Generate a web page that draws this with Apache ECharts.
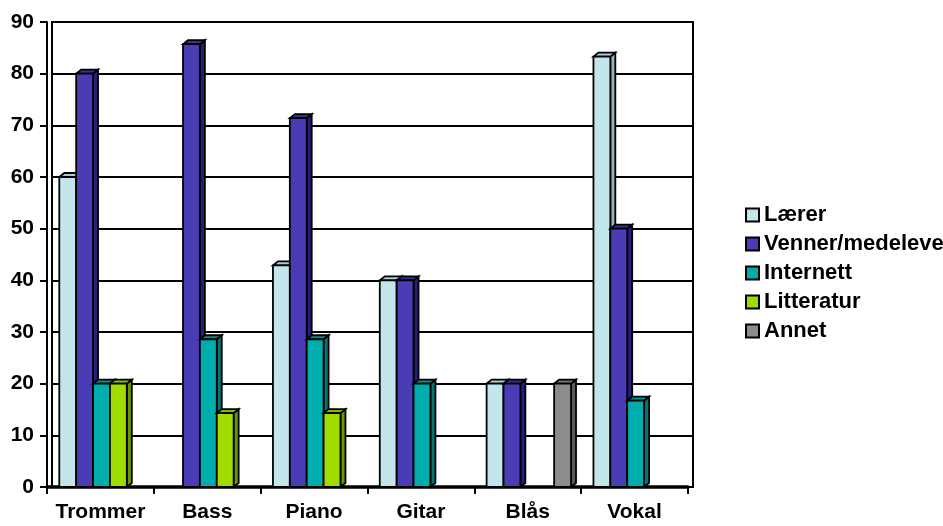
<!DOCTYPE html>
<html>
<head>
<meta charset="utf-8">
<script src="https://cdn.jsdelivr.net/npm/echarts@6/dist/echarts.min.js"></script>
<style>
  html, body { margin: 0; padding: 0; background: #fff; }
  #chart { width: 943px; height: 526px; }
</style>
</head>
<body>
<div id="chart"></div>
<script>
// Instrument categories and sources of learning (percent)
const categories = ['Trommer', 'Bass', 'Piano', 'Gitar', 'Blås', 'Vokal'];
const seriesNames = ['Lærer', 'Venner/medelever', 'Internett', 'Litteratur', 'Annet'];
const laerer     = [60,   0,    42.9, 40, 20, 83.3];
const venner     = [80,   85.7, 71.4, 40, 20, 50];
const internett  = [20,   28.6, 28.6, 20, 0,  16.7];
const litteratur = [20,   14.3, 14.3, 0,  0,  0];
const annet      = [0,    0,    0,    0,  20, 0];
const yTicks = [0, 10, 20, 30, 40, 50, 60, 70, 80, 90];

const allValues = [laerer, venner, internett, litteratur, annet];
// front, side, top face colours for each series
const palette = [
  { front: '#c2e6ec', side: '#8fb3b8', top: '#a6cdd2' },
  { front: '#4a3cb4', side: '#281d78', top: '#3a2d96' },
  { front: '#00adad', side: '#007676', top: '#009090' },
  { front: '#a0dc00', side: '#6a9600', top: '#86ba00' },
  { front: '#8c8c8c', side: '#5a5a5a', top: '#737373' }
];

const FONT = '"Liberation Sans", Arial, sans-serif';

function make3DBar(seriesIndex) {
  const c = palette[seriesIndex];
  return function (params, api) {
    const cat = api.value(0);
    const val = api.value(1);
    if (!val) return null;
    const base = api.coord([cat, 0]);
    const top = api.coord([cat, val]);
    const band = api.size([1, 0])[0];
    const w = band * 0.158;
    const x0 = base[0] - band * 0.385 + seriesIndex * w;
    const dx = 5, dy = 4;
    const yT = top[1], yB = base[1];
    const stroke = { stroke: '#000', lineWidth: 1.8 };
    return {
      type: 'group',
      children: [
        {
          type: 'polygon',
          shape: { points: [[x0 + w, yT], [x0 + w + dx, yT - dy], [x0 + w + dx, yB - dy], [x0 + w, yB]] },
          style: Object.assign({ fill: c.side }, stroke)
        },
        {
          type: 'polygon',
          shape: { points: [[x0, yT], [x0 + dx, yT - dy], [x0 + w + dx, yT - dy], [x0 + w, yT]] },
          style: Object.assign({ fill: c.top }, stroke)
        },
        {
          type: 'rect',
          shape: { x: x0, y: yT, width: w, height: yB - yT },
          style: Object.assign({ fill: c.front }, stroke)
        }
      ]
    };
  };
}

const series = seriesNames.map((name, i) => ({
  name: name,
  type: 'custom',
  xAxisIndex: 1,
  yAxisIndex: 1,
  renderItem: make3DBar(i),
  itemStyle: { color: palette[i].front, borderColor: '#000', borderWidth: 2 },
  encode: { x: 0, y: 1 },
  data: allValues[i].map((v, k) => [k, v]),
  z: 10 + i
}));

const chart = echarts.init(document.getElementById('chart'), null, { renderer: 'canvas' });
chart.setOption({
  backgroundColor: '#fff',
  animation: false,
  legend: {
    orient: 'vertical',
    left: 740,
    top: 199,
    itemWidth: 13,
    itemHeight: 13,
    itemGap: 7,
    icon: 'rect',
    selectedMode: false,
    itemStyle: { borderColor: '#000', borderWidth: 2 },
    textStyle: { fontFamily: FONT, fontWeight: 'bold', fontSize: 22, color: '#000', lineHeight: 22 },
    data: seriesNames
  },
  grid: [
    // back wall
    { left: 52, right: 250, top: 22, bottom: 39, show: true, borderColor: '#000', borderWidth: 2, backgroundColor: 'transparent' },
    // front plane
    { left: 47, right: 255, top: 22, bottom: 39 }
  ],
  xAxis: [
    { type: 'category', gridIndex: 0, data: categories, show: false },
    {
      type: 'category', gridIndex: 1, data: categories, boundaryGap: true,
      axisLine: { show: true, lineStyle: { color: '#000', width: 3.5 } },
      axisTick: { show: true, length: 7, lineStyle: { color: '#000', width: 2 } },
      axisLabel: { interval: 0, fontFamily: FONT, fontWeight: 'bold', fontSize: 21, color: '#000', margin: 15 }
    }
  ],
  yAxis: [
    {
      type: 'value', gridIndex: 0, min: 0, max: 90, interval: 10,
      axisLine: { show: false }, axisTick: { show: false }, axisLabel: { show: false },
      splitLine: { show: true, lineStyle: { color: '#000', width: 2 } }
    },
    {
      type: 'value', gridIndex: 1, min: 0, max: 90, interval: 10,
      axisLine: { show: true, lineStyle: { color: '#000', width: 2 } },
      axisTick: { show: true, length: 7, lineStyle: { color: '#000', width: 2 } },
      splitLine: { show: false },
      axisLabel: {
        fontFamily: FONT, fontWeight: 'bold', fontSize: 21, color: '#000', margin: 13,
        formatter: v => (yTicks.indexOf(v) >= 0 ? String(v) : '')
      }
    }
  ],
  series: series
});
</script>
</body>
</html>
